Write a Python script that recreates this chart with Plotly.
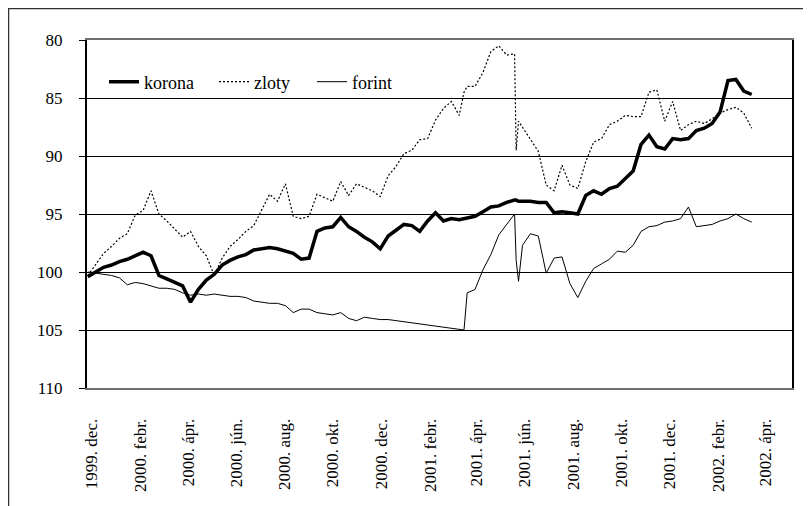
import plotly.graph_objects as go

dates = [
    "1999-11-26", "1999-12-06", "1999-12-16", "1999-12-26", "2000-01-05", "2000-01-15",
    "2000-01-25", "2000-02-04", "2000-02-14", "2000-02-24", "2000-03-05", "2000-03-15",
    "2000-03-25", "2000-04-04", "2000-04-14", "2000-04-24", "2000-05-04", "2000-05-14",
    "2000-05-24", "2000-06-03", "2000-06-13", "2000-06-23", "2000-07-03", "2000-07-13",
    "2000-07-23", "2000-08-02", "2000-08-12", "2000-08-22", "2000-09-01", "2000-09-11",
    "2000-09-21", "2000-10-01", "2000-10-11", "2000-10-21", "2000-10-31", "2000-11-10",
    "2000-11-20", "2000-11-30", "2000-12-10", "2000-12-20", "2000-12-30", "2001-01-09",
    "2001-01-19", "2001-01-29", "2001-02-08", "2001-02-18", "2001-02-28", "2001-03-10",
    "2001-03-16", "2001-03-20", "2001-03-30", "2001-04-09", "2001-04-19", "2001-04-29",
    "2001-05-09", "2001-05-19", "2001-05-21", "2001-05-24", "2001-05-29", "2001-06-08",
    "2001-06-18", "2001-06-28", "2001-07-08", "2001-07-18", "2001-07-28", "2001-08-07",
    "2001-08-17", "2001-08-27", "2001-09-06", "2001-09-16", "2001-09-26", "2001-10-06",
    "2001-10-16", "2001-10-26", "2001-11-05", "2001-11-15", "2001-11-25", "2001-12-05",
    "2001-12-15", "2001-12-25", "2002-01-04", "2002-01-14", "2002-01-24", "2002-02-03",
    "2002-02-13", "2002-02-23", "2002-03-05", "2002-03-15",
]

korona = [
    100.4, 100.0, 99.6, 99.4, 99.1, 98.9, 98.6, 98.3, 98.6, 100.3, 100.6, 100.9,
    101.2, 102.6, 101.5, 100.7, 100.2, 99.4, 99.0, 98.7, 98.5, 98.1, 98.0, 97.9,
    98.0, 98.2, 98.4, 98.9, 98.8, 96.5, 96.2, 96.1, 95.3, 96.1, 96.5, 97.0,
    97.4, 98.0, 96.9, 96.4, 95.9, 96.0, 96.5, 95.6, 94.9, 95.6, 95.4, 95.5,
    95.4, 95.3, 95.2, 94.8, 94.4, 94.3, 94.0, 93.8, 93.8, 93.9, 93.9, 93.9,
    94.0, 94.0, 94.9, 94.8, 94.9, 95.0, 93.4, 93.0, 93.3, 92.8, 92.6, 92.0,
    91.3, 89.0, 88.2, 89.2, 89.4, 88.5, 88.6, 88.5, 87.8, 87.6, 87.2, 86.2,
    83.5, 83.4, 84.4, 84.7,
]

zloty = [
    100.3, 99.4, 98.4, 97.8, 97.1, 96.7, 95.1, 94.7, 93.0, 95.0, 95.6, 96.3,
    97.0, 96.5, 97.8, 98.6, 100.3, 98.8, 97.8, 97.2, 96.5, 96.0, 94.6, 93.3,
    93.9, 92.4, 95.2, 95.4, 95.2, 93.3, 93.6, 93.9, 92.2, 93.4, 92.4, 92.7,
    93.0, 93.5, 91.7, 90.9, 89.8, 89.5, 88.6, 88.5, 86.9, 85.9, 85.3, 86.5,
    84.5, 84.0, 84.0, 82.8, 81.0, 80.5, 81.3, 81.2, 89.5, 87.0, 87.5, 88.5,
    89.6, 92.5, 93.0, 90.8, 92.5, 92.8, 90.5, 88.8, 88.5, 87.3, 87.0, 86.5,
    86.6, 86.6, 84.5, 84.3, 87.0, 85.3, 87.8, 87.3, 87.0, 87.2, 86.8, 86.3,
    86.0, 85.8, 86.3, 87.6,
]

forint = [
    100.0, 100.1, 100.2, 100.3, 100.5, 101.1, 100.9, 101.0, 101.2, 101.4, 101.4, 101.5,
    101.8, 102.0, 101.9, 102.0, 101.9, 102.0, 102.1, 102.1, 102.2, 102.5, 102.6, 102.7,
    102.7, 102.9, 103.5, 103.2, 103.2, 103.5, 103.6, 103.7, 103.5, 104.0, 104.2, 103.9,
    104.0, 104.1, 104.1, 104.2, 104.3, 104.4, 104.5, 104.6, 104.7, 104.8, 104.9, 105.0,
    105.0, 101.8, 101.5, 99.8, 98.5, 96.8, 95.9, 95.0, 99.0, 100.8, 97.7, 96.7,
    96.9, 100.1, 98.8, 98.7, 101.0, 102.2, 100.8, 99.7, 99.3, 98.9, 98.2, 98.3,
    97.7, 96.5, 96.1, 96.0, 95.7, 95.6, 95.4, 94.4, 96.1, 96.0, 95.9, 95.6,
    95.4, 95.0, 95.4, 95.7,
]

tick_dates = [
    "1999-12-01", "2000-02-01", "2000-04-01", "2000-06-01", "2000-08-01", "2000-10-01",
    "2000-12-01", "2001-02-01", "2001-04-01", "2001-06-01", "2001-08-01", "2001-10-01",
    "2001-12-01", "2002-02-01", "2002-04-01",
]
tick_labels = [
    "1999. dec.", "2000. febr.", "2000. ápr.", "2000. jún.", "2000. aug.", "2000. okt.",
    "2000. dec.", "2001. febr.", "2001. ápr.", "2001. jún.", "2001. aug.", "2001. okt.",
    "2001. dec.", "2002. febr.", "2002. ápr.",
]
y_ticks = [80, 85, 90, 95, 100, 105, 110]

FONT = "Liberation Serif, Times New Roman, serif"

W, H = 803, 498
L, R, T, B = 79, 19, 32, 118
PW, PH = W - L - R, H - T - B


def legend_at(px):
    return dict(orientation="h", x=(px - L) / PW, y=(T + PH - 74) / PH,
                xanchor="left", yanchor="middle",
                bgcolor="rgba(0,0,0,0)", borderwidth=0,
                font=dict(family=FONT, size=18, color="black"))


fig = go.Figure()
fig.add_trace(go.Scatter(x=dates, y=korona, name="korona", mode="lines",
                         line=dict(color="black", width=3.5), legend="legend"))
fig.add_trace(go.Scatter(x=dates, y=zloty, name="zloty", mode="lines",
                         line=dict(color="black", width=1.2, dash="2px,2px"),
                         legend="legend2"))
fig.add_trace(go.Scatter(x=dates, y=forint, name="forint", mode="lines",
                         line=dict(color="black", width=1), legend="legend3"))

fig.update_layout(
    width=W, height=H,
    margin=dict(l=L, r=R, t=T, b=B, autoexpand=False),
    paper_bgcolor="white", plot_bgcolor="white",
    font=dict(family=FONT, size=17, color="black"),
    showlegend=True,
    legend=legend_at(96),
    legend2=legend_at(206),
    legend3=legend_at(304),
    xaxis=dict(type="date", range=["1999-11-25", "2002-05-05"],
               tickmode="array", tickvals=tick_dates, ticktext=tick_labels,
               tickangle=-90, showgrid=False, zeroline=False,
               showline=True, linecolor="#6e6e6e", linewidth=2, mirror=True,
               ticks="", ticklabelstandoff=22),
    yaxis=dict(range=[110, 80], tickmode="array", tickvals=y_ticks,
               showgrid=True, gridcolor="black", gridwidth=1, zeroline=False,
               showline=True, linecolor="black", linewidth=2, mirror=True,
               ticks="outside", ticklen=6, tickcolor="black", tickwidth=1,
               ticklabelstandoff=13),
    shapes=[
        dict(type="rect", xref="paper", yref="paper",
             x0=(0.5 - L) / PW, x1=(W + 6 - L) / PW,
             y0=(T + PH - (H + 6)) / PH, y1=(T + PH - 0.5) / PH,
             line=dict(color="#303030", width=1.5), fillcolor="rgba(0,0,0,0)",
             layer="above"),
    ],
)

fig.write_html("out.html")
